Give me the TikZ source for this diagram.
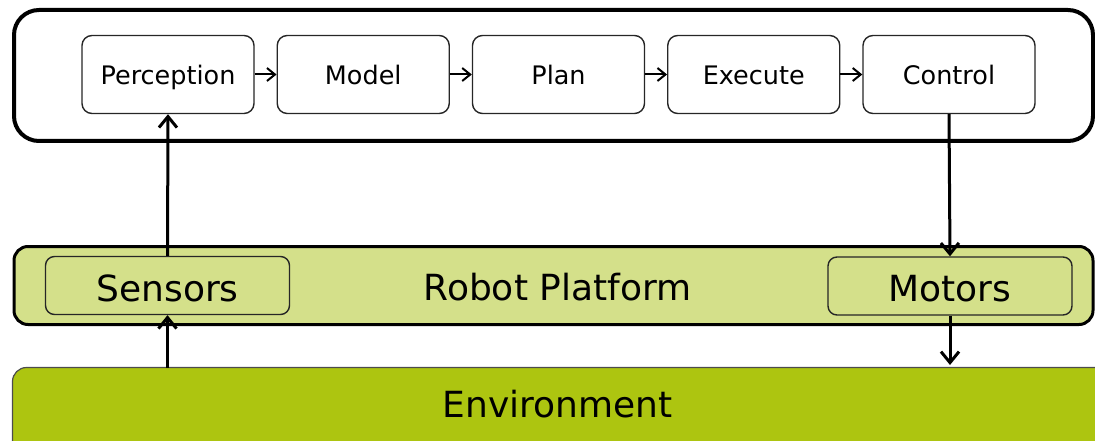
\documentclass[tikz,border=0pt]{standalone}
\usepackage{fontspec}
\setmainfont{DejaVu Sans}
\usetikzlibrary{arrows.meta}
\definecolor{platformgreen}{RGB}{212,224,138}
\definecolor{envgreen}{RGB}{173,197,16}
\begin{document}
\begin{tikzpicture}[x=1pt,y=-1pt,
  frame/.style={draw=black, line width=4pt, rounded corners=25pt,
    minimum width=1079pt, minimum height=131pt, inner sep=0pt},
  stage/.style={draw=black!85, line width=1.4pt, rounded corners=10pt, fill=white,
    minimum width=172pt, minimum height=78pt, inner sep=0pt,
    font=\fontsize{25.5}{30}\selectfont, text height=21pt, text depth=0pt},
  platform/.style={draw=black, line width=3pt, rounded corners=14pt, fill=platformgreen,
    minimum width=1079pt, minimum height=78pt, inner sep=0pt,
    font=\fontsize{36}{42}\selectfont, text height=30pt, text depth=0pt},
  device/.style={draw=black!85, line width=1.4pt, rounded corners=9pt, fill=platformgreen,
    minimum width=244pt, minimum height=58pt, inner sep=0pt,
    font=\fontsize{36}{42}\selectfont, text height=31pt, text depth=0pt},
  envbox/.style={draw=black!70, line width=1.2pt, rounded corners=14pt, fill=envgreen,
    inner sep=0pt},
  flow/.style={line width=2pt, -{Straight Barb[length=8pt,width=13pt,line width=2pt]}},
  link/.style={line width=3pt, -{Straight Barb[length=11pt,width=18pt,line width=3pt]}}
]
\useasboundingbox (0,0) rectangle (1095,441);
\begin{scope}
\clip (0,0) rectangle (1095,441);

% software layer
\node[frame] (core) at (553.5,75.5) {};
\node[stage] (perception) at (168,74.5) {Perception};
\node[stage] (model) at (363.25,74.5) {Model};
\node[stage] (plan) at (558.5,74.5) {Plan};
\node[stage] (execute) at (753.75,74.5) {Execute};
\node[stage] (control) at (949,74.5) {Control};

\draw[flow] (perception) -- (model);
\draw[flow] (model) -- (plan);
\draw[flow] (plan) -- (execute);
\draw[flow] (execute) -- (control);

% hardware layer
\node[platform] (platform) at (553.5,285.5) {\hspace{8pt}Robot Platform};
\node[device] (sensors) at (167.5,285.5) {Sensors};
\node[device] (motors) at (950,286) {Motors};

% environment
\draw[envbox] (12.5,367.5) rectangle (1110,480);
\node[font=\fontsize{36}{42}\selectfont, text height=30pt, text depth=0pt] (environment) at (557.5,402) {Environment};
\coordinate (envin) at (167.5,367.5);
\coordinate (envout) at (950,365);

% data paths
\draw[link] (sensors.north) -- (perception.south);
\draw[link] (control.south) -- (motors.north);
\draw[link] (envin) -- (sensors.south);
\draw[link] (motors.south) -- (envout);
\end{scope}
\end{tikzpicture}
\end{document}
